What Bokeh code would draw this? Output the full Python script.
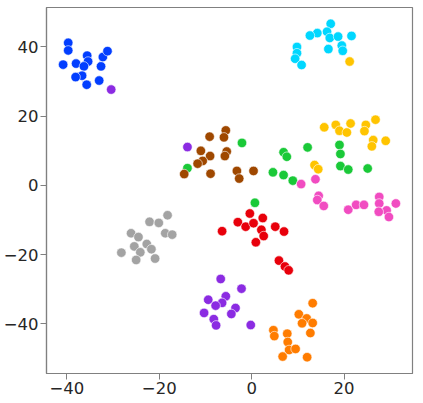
from bokeh.plotting import figure
from bokeh.models import ColumnDataSource, FixedTicker
from bokeh.embed import file_html
from bokeh.resources import INLINE

# t-SNE style clusters (x, y)
blue_x = [-39.7, -39.7, -40.8, -38.0, -35.6, -35.4, -36.3, -36.7, -38.1, -35.7, -32.6, -32.2, -31.2, -33.0]
blue_y = [41.2, 39.0, 34.9, 35.2, 37.5, 35.8, 34.4, 31.7, 31.3, 29.1, 34.4, 37.1, 38.8, 30.3]

cyan_x = [17.1, 16.3, 16.9, 14.2, 12.6, 18.7, 21.6, 19.5, 19.7, 16.6, 9.8, 9.8, 9.4, 10.8]
cyan_y = [46.7, 44.4, 42.6, 44.0, 43.3, 43.0, 43.2, 40.4, 38.9, 39.4, 40.0, 38.2, 36.6, 34.8]

yellow_x = [15.7, 18.2, 19.0, 20.6, 21.4, 24.7, 24.4, 26.8, 26.3, 29.0, 26.0, 13.6, 14.4, 21.2]
yellow_y = [16.8, 17.5, 15.8, 15.3, 17.9, 17.5, 15.7, 19.0, 13.1, 12.9, 11.3, 5.9, 4.7, 35.8]

brown_x = [-5.6, -6.0, -9.1, -11.0, -5.4, -5.8, -9.0, -10.6, -11.7, -14.6, -8.9, -3.2, -2.7, 0.4]
brown_y = [15.9, 13.9, 14.1, 10.0, 9.8, 8.5, 8.5, 7.1, 6.3, 3.3, 3.4, 4.2, 2.0, 4.2]

green_x = [-13.9, -2.1, 6.9, 7.6, 12.1, 4.6, 6.9, 8.9, 0.7, 19.0, 19.2, 19.2, 20.9, 25.1]
green_y = [5.0, 12.3, 9.6, 8.3, 11.0, 3.8, 3.0, 1.4, -5.0, 11.7, 9.1, 5.6, 4.6, 4.9]

pink_x = [10.7, 13.8, 14.5, 14.2, 15.6, 20.9, 22.6, 24.3, 27.6, 27.6, 31.2, 29.2, 27.5, 29.7]
pink_y = [0.4, 1.8, -3.0, -4.2, -5.9, -7.0, -5.6, -5.6, -3.3, -5.2, -5.2, -7.2, -7.6, -9.1]

red_x = [-0.4, -3.0, -1.3, 0.4, 2.4, 2.1, 2.6, 0.9, -6.4, 5.1, 7.0, 5.9, 7.2, 8.0]
red_y = [-8.1, -10.6, -11.9, -10.9, -9.4, -12.8, -14.6, -16.4, -13.2, -11.9, -13.3, -21.7, -23.4, -24.5]

gray_x = [-18.2, -22.1, -20.1, -26.1, -24.5, -18.7, -17.2, -25.4, -22.7, -21.7, -24.1, -28.2, -25.0, -20.9]
gray_y = [-8.6, -10.5, -10.8, -13.8, -14.9, -13.8, -14.2, -17.6, -16.9, -18.4, -19.3, -19.4, -21.5, -21.1]

purple_x = [-30.4, -13.9, -6.7, -2.2, -9.4, -5.6, -6.4, -7.8, -3.5, -4.4, -10.3, -8.2, -7.7, -0.2]
purple_y = [27.7, 11.1, -27.0, -29.8, -33.0, -32.0, -33.9, -34.7, -35.4, -37.1, -36.8, -38.6, -40.4, -40.3]

orange_x = [13.2, 10.2, 11.9, 10.9, 13.2, 12.7, 4.7, 4.9, 7.7, 7.8, 8.1, 9.5, 6.7, 12.0]
orange_y = [-34.0, -37.2, -38.4, -39.8, -39.7, -42.6, -41.8, -43.5, -42.8, -45.2, -47.5, -47.2, -49.4, -49.6]

groups = [
    (blue_x, blue_y, "#023eff"),
    (orange_x, orange_y, "#ff7c00"),
    (green_x, green_y, "#1ac938"),
    (red_x, red_y, "#e8000b"),
    (purple_x, purple_y, "#8b2be2"),
    (brown_x, brown_y, "#9f4800"),
    (pink_x, pink_y, "#f14cc1"),
    (gray_x, gray_y, "#a3a3a3"),
    (yellow_x, yellow_y, "#ffc400"),
    (cyan_x, cyan_y, "#00d7ff"),
]

x_ticks = [-40, -20, 0, 20]
y_ticks = [-40, -20, 0, 20, 40]

p = figure(frame_width=366, frame_height=366, x_range=(-44.4, 34.8), y_range=(-54.3, 51.4),
           output_backend="svg", toolbar_location=None,
           min_border_left=0, min_border_right=2, min_border_top=7, min_border_bottom=0)

for xs, ys, c in groups:
    src = ColumnDataSource(dict(x=xs, y=ys))
    p.scatter("x", "y", source=src, size=9.5, fill_color=c, line_color="white", line_width=0.6)

p.grid.visible = False
p.outline_line_color = "#808080"
p.outline_line_width = 1.2

for ax, ticks in ((p.xaxis, x_ticks), (p.yaxis, y_ticks)):
    ax.ticker = FixedTicker(ticks=ticks)
    ax.major_label_overrides = {t: (str(t).replace("-", "\u2212")) for t in ticks}
    ax.minor_tick_line_color = None
    ax.axis_line_color = "#808080"
    ax.axis_line_width = 1.2
    ax.major_tick_line_color = "#808080"
    ax.major_tick_out = 6
    ax.major_tick_in = 0
    ax.major_label_text_font = "DejaVu Sans"
    ax.major_label_text_font_size = "16.5px"
    ax.major_label_text_color = "#262626"
    ax.major_label_standoff = 2

open("out.html", "w").write(file_html(p, INLINE))
